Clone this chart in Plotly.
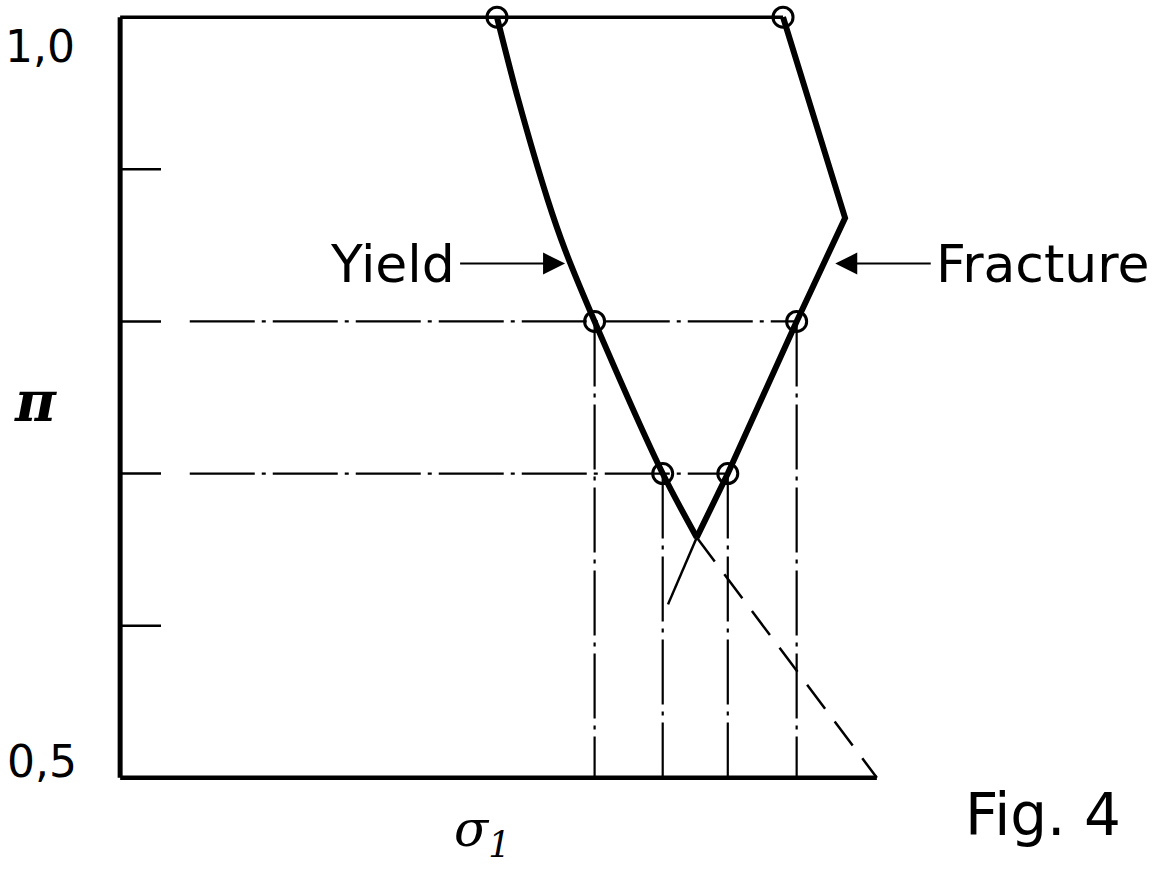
import plotly.graph_objects as go

# pi levels where the test points sit, and the sigma_1 read at each curve
pi_levels = [1.0, 0.8, 0.7]
yield_pts = [0.498, 0.627, 0.717]
fracture_pts = [0.876, 0.894, 0.803]

# yield curve (solid part) and its dashed extension
yield_pi = [1.0, 0.946, 0.880, 0.847, 0.8, 0.7, 0.658]
yield_sigma = [0.498, 0.526, 0.565, 0.588, 0.627, 0.717, 0.762]
yield_ext_pi = [0.658, 0.5]
yield_ext_sigma = [0.762, 1.0]

# fracture curve and its thin extension below the crossing
fracture_pi = [1.0, 0.868, 0.8, 0.7, 0.658]
fracture_sigma = [0.876, 0.958, 0.894, 0.803, 0.762]
fracture_ext_pi = [0.658, 0.614]
fracture_ext_sigma = [0.762, 0.724]

# where the two labelled arrows point
arrow_pi = 0.838
yield_arrow_sigma = 0.588
fracture_arrow_sigma = 0.945

# axis frame
pi_min, pi_max = 0.5, 1.0
sigma_max = 1.0
pi_ticks = [0.6, 0.7, 0.8, 0.9]
tick_len = 0.054
guide_start = 0.092

X_RANGE = [-0.02, 1.02]
Y_RANGE = [0.49, 1.008]

BLACK = "black"
SANS = "DejaVu Sans"
SERIF = "DejaVu Serif"

fig = go.Figure()


def line(x, y, width, dash="solid", shape="linear"):
    fig.add_trace(go.Scatter(x=x, y=y, mode="lines",
                             line=dict(color=BLACK, width=width, dash=dash,
                                       shape=shape, smoothing=0.8),
                             hoverinfo="skip"))


# frame: left axis, bottom axis, top line (ends at the fracture point)
line([0, 0], [pi_min, pi_max], 5)
line([0, sigma_max], [pi_min, pi_min], 4.5)
line([0, fracture_pts[0]], [pi_max, pi_max], 3.5)

# short ticks on the pi axis
tx, ty = [], []
for p in pi_ticks:
    tx += [0, tick_len, None]
    ty += [p, p, None]
line(tx, ty, 2.5)

# dash-dot guide lines: horizontal to the fracture point, verticals down to the axis
dashdot = "65px,7px,4px,7px"
for p, fs in zip(pi_levels[1:], fracture_pts[1:]):
    line([guide_start, fs], [p, p], 2.2, dashdot)
for p, ys, fs in zip(pi_levels[1:], yield_pts[1:], fracture_pts[1:]):
    line([ys, ys], [p, pi_min], 2.2, dashdot)
    line([fs, fs], [p, pi_min], 2.2, dashdot)

# curves
line(yield_ext_sigma, yield_ext_pi, 2.5, "30px,16px")
line(fracture_ext_sigma, fracture_ext_pi, 2.5)
line(yield_sigma, yield_pi, 6, shape="spline")
line(fracture_sigma, fracture_pi, 6)

# open circles at the test points
fig.add_trace(go.Scatter(
    x=yield_pts + fracture_pts, y=pi_levels + pi_levels, mode="markers",
    marker=dict(symbol="circle-open", size=20, color=BLACK, line=dict(width=3)),
    cliponaxis=False, hoverinfo="skip"))


# labels sit outside the axis ranges, so place them in paper units
def to_paper(v, rng):
    return (v - rng[0]) / (rng[1] - rng[0])


def label(text, x, y, size, family=SANS):
    fig.add_annotation(x=to_paper(x, X_RANGE), y=to_paper(y, Y_RANGE),
                       xref="paper", yref="paper", text=text, showarrow=False,
                       font=dict(family=family, size=size, color=BLACK),
                       xanchor="center", yanchor="middle")


def arrow_label(text, x_head, y, offset):
    fig.add_annotation(x=x_head, y=y, xref="x", yref="y", ax=offset, ay=0,
                       text=text, showarrow=True, arrowhead=2, arrowsize=2.2,
                       arrowwidth=2, arrowcolor=BLACK, startstandoff=4,
                       font=dict(family=SANS, size=52, color=BLACK))


label("1,0", -0.106, 0.981, 44)
label("0,5", -0.103, 0.5105, 44)
label("<b><i>π</i></b>", -0.112, 0.748, 56, SERIF)
label("<i>σ</i><sub><i>1</i></sub>", 0.478, 0.464, 50, SERIF)
label("Fig. 4", 1.219, 0.4757, 58)
arrow_label("Yield", yield_arrow_sigma, arrow_pi, -173)
arrow_label("Fracture", fracture_arrow_sigma, arrow_pi, 208)

fig.update_layout(
    width=1164, height=878,
    margin=dict(l=105, r=272, t=5, b=85),
    paper_bgcolor="white", plot_bgcolor="white",
    showlegend=False,
    xaxis=dict(range=X_RANGE, visible=False, fixedrange=True),
    yaxis=dict(range=Y_RANGE, visible=False, fixedrange=True),
)

fig.write_html("out.html", post_script="document.body.style.margin='0';",
               config={"displayModeBar": False})
